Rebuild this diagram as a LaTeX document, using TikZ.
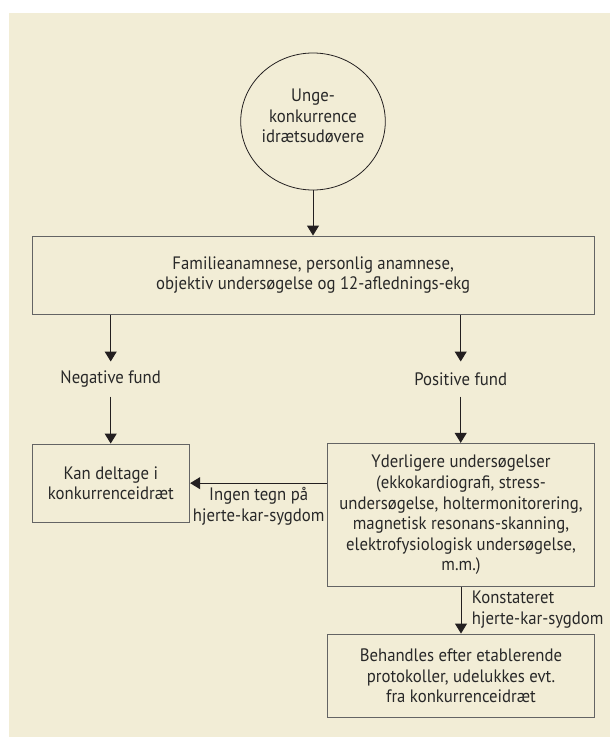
\documentclass[tikz,border=0pt]{standalone}
\usepackage{fontspec}
\setmainfont[FakeStretch=0.93]{PT Sans}
\usetikzlibrary{shapes.geometric,arrows.meta}
\definecolor{bg}{RGB}{242,237,214}
\definecolor{boxline}{RGB}{100,100,100}
\definecolor{arrowc}{RGB}{35,31,32}
\definecolor{txt}{RGB}{40,40,40}
\begin{document}
\begin{tikzpicture}[x=1pt,y=-1pt,
  every node/.style={font=\fontsize{18}{20.6}\selectfont, text=txt},
  boxnode/.style={draw=boxline, line width=0.9pt, rectangle, inner sep=0pt, align=center},
  lbl/.style={inner sep=0pt, minimum height=34.6pt, align=center},
  arr/.style={draw=arrowc, line width=1pt, -{Triangle[width=12pt,length=10pt]}}]
\useasboundingbox (0,0) rectangle (610,738);
\fill[bg] (9,13) rectangle (610,737);
% nodes
\node[draw=arrowc, line width=0.8pt, ellipse, minimum width=144.6pt, minimum height=137pt, inner sep=0pt] (circ) at (313,121.5) {};
\node[align=center, inner sep=0pt] (circtext) at (313,116) {Unge-\\konkurrence\\idrætsudøvere};
\node[boxnode, minimum width=562.3pt, minimum height=78.3pt] (box1) at (313.15,275.15)
  {Familieanamnese, personlig anamnese,\\objektiv undersøgelse og 12-aflednings-ekg};
\node[lbl] (neg) at (110.7,379) {Negative fund};
\node[lbl] (pos) at (460.7,379) {Positive fund};
\node[boxnode, minimum width=157.7pt, minimum height=78.3pt] (kan) at (110.85,483.15)
  {Kan deltage i\\konkurrenceidræt};
\node[boxnode, minimum width=266.6pt, minimum height=143.4pt] (yder) at (461,515)
  {Yderligere undersøgelser\\(ekkokardiografi, stress-\\undersøgelse, holtermonitorering,\\magnetisk resonans-skanning,\\elektrofysiologisk undersøgelse,\\m.m.)};
\node[boxnode, minimum width=266.6pt, minimum height=83.7pt] (beh) at (461,675.85)
  {Behandles efter etablerende\\protokoller, udelukkes evt.\\fra konkurrenceidræt};
\node[align=center, inner sep=0pt] (ingen) at (258.7,506.5) {Ingen tegn på\\hjerte-kar-sygdom};
\node[align=left, inner sep=0pt, anchor=west] (konst) at (471.7,609.7) {Konstateret\\hjerte-kar-sygdom};
% connectors
\draw[arr] (circ.south) -- (box1.north -| circ.south);
\draw[arr] (box1.south -| neg.north) -- (neg.north);
\draw[arr] (box1.south -| pos.north) -- (pos.north);
\draw[arr] (neg.south) -- (kan.north -| neg.south);
\draw[arr] (pos.south) -- (yder.north -| pos.south);
\draw[arr] (yder.west |- kan.east) -- (kan.east);
\draw[arr] (yder.south) -- (beh.north);
\end{tikzpicture}
\end{document}
